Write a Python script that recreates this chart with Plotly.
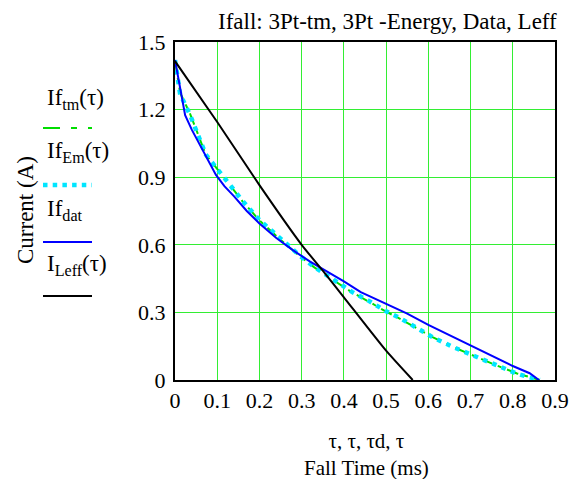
import plotly.graph_objects as go

# ---- data ----
tau_fit = [0, 0.012, 0.036, 0.073, 0.105, 0.13, 0.16, 0.2, 0.25, 0.3, 0.33, 0.38, 0.42, 0.46, 0.5,
           0.53, 0.57, 0.61, 0.66, 0.71, 0.76, 0.81, 0.84, 0.864]
if_tm = [1.42, 1.275, 1.18, 1.0, 0.925, 0.863, 0.793, 0.708, 0.622, 0.543, 0.5, 0.437, 0.388, 0.347, 0.303,
         0.275, 0.233, 0.19, 0.145, 0.105, 0.066, 0.029, 0.013, 0.0]
if_em = [1.42, 1.27, 1.175, 1.0, 0.925, 0.865, 0.795, 0.71, 0.625, 0.545, 0.502, 0.44, 0.39, 0.35, 0.305,
         0.278, 0.235, 0.19, 0.145, 0.105, 0.065, 0.028, 0.012, 0.0]

tau_d = [0, 0.008, 0.016, 0.024, 0.04, 0.053, 0.073, 0.097, 0.117, 0.14, 0.17, 0.2, 0.24, 0.28, 0.32, 0.36,
         0.4, 0.44, 0.5, 0.55, 0.6, 0.65, 0.7, 0.75, 0.8, 0.84, 0.855, 0.862]
if_dat = [1.42, 1.34, 1.25, 1.175, 1.11, 1.065, 0.99, 0.91, 0.86, 0.815, 0.75, 0.695, 0.63, 0.575, 0.525, 0.482,
          0.438, 0.39, 0.34, 0.295, 0.245, 0.2, 0.155, 0.11, 0.062, 0.03, 0.009, 0.0]

tau_l = [0, 0.1, 0.2, 0.3, 0.35, 0.4, 0.5, 0.563]
i_leff = [1.415, 1.145, 0.865, 0.6, 0.485, 0.367, 0.13, 0.0]

x_ticks = [0, 0.1, 0.2, 0.3, 0.4, 0.5, 0.6, 0.7, 0.8, 0.9]
y_ticks = [0, 0.3, 0.6, 0.9, 1.2, 1.5]

FONT = "Liberation Serif, Times New Roman, serif"
OFF = 8  # page body margin
W, H = 583 - OFF, 479 - OFF
PL, PR, PT, PB = 175, 555, 42, 380  # plot box in window pixels


def px(x):
    return (x - PL) / (PR - PL)


def py(y):
    return (PB - y) / (PB - PT)


fig = go.Figure()
fig.add_trace(go.Scatter(x=tau_fit, y=if_tm, mode="lines",
                         line=dict(color="#00dd00", width=2, dash="12px,6px,4px,6px")))
fig.add_trace(go.Scatter(x=tau_fit, y=if_em, mode="lines",
                         line=dict(color="#00e5ff", width=4.5, dash="4.5px,5.5px")))
fig.add_trace(go.Scatter(x=tau_d, y=if_dat, mode="lines",
                         line=dict(color="#0000ff", width=2)))
fig.add_trace(go.Scatter(x=tau_l, y=i_leff, mode="lines",
                         line=dict(color="#000000", width=2, shape="spline", smoothing=0.6)))

grid = "#33ee33"
fig.update_xaxes(range=[0, 0.9], tickvals=x_ticks, ticktext=[f"{v:g}" for v in x_ticks],
                 showgrid=True, gridcolor=grid, gridwidth=1, zeroline=False,
                 showline=True, linecolor="black", linewidth=2, mirror=True,
                 ticks="", tickfont=dict(family=FONT, size=22, color="black"))
fig.update_yaxes(range=[0, 1.5], tickvals=y_ticks, ticktext=[f"{v:g}" for v in y_ticks],
                 showgrid=True, gridcolor=grid, gridwidth=1, zeroline=False,
                 showline=True, linecolor="black", linewidth=2, mirror=True,
                 ticks="", ticklabelstandoff=3, tickfont=dict(family=FONT, size=22, color="black"))

ann = []


def text(t, x, y, xa="center", ya="middle", angle=0, size=23):
    ann.append(dict(text=t, x=px(x), y=py(y), xref="paper", yref="paper", xanchor=xa, yanchor=ya,
                    textangle=angle, showarrow=False, font=dict(family=FONT, size=size, color="black")))


text("Ifall: 3Pt-tm, 3Pt -Energy, Data, Leff", 387, 21)
text("τ, τ, τd, τ<br>Fall Time (ms)", 366, 455, size=21)
text("Current (A)", 25, 210, angle=-90)

legend_items = [
    ("If<sub>tm</sub>(τ)", 92, 128, "#00dd00", 2, "17px,11px,6px,11px,2px,0px"),
    ("If<sub>Em</sub>(τ)", 145, 185, "#00e5ff", 4.5, "4.5px,5.2px"),
    ("If<sub>dat</sub>", 203, 242, "#0000ff", 2, "solid"),
    ("I<sub>Leff</sub>(τ)", 258, 296, "#000000", 2, "solid"),
]
shapes = []
for txt, ty, ly, col, w, dash in legend_items:
    text(txt, 45, ty - 9, xa="left", ya="top")
    shapes.append(dict(type="line", xref="paper", yref="paper", x0=px(43), x1=px(92), y0=py(ly), y1=py(ly),
                       line=dict(color=col, width=w, dash=dash)))

fig.update_layout(width=W, height=H, autosize=False,
                  margin=dict(l=PL - OFF, r=W - (PR - OFF), t=PT - OFF, b=H - (PB - OFF)),
                  plot_bgcolor="white", paper_bgcolor="white", showlegend=False,
                  annotations=ann, shapes=shapes)

fig.write_html("out.html")
